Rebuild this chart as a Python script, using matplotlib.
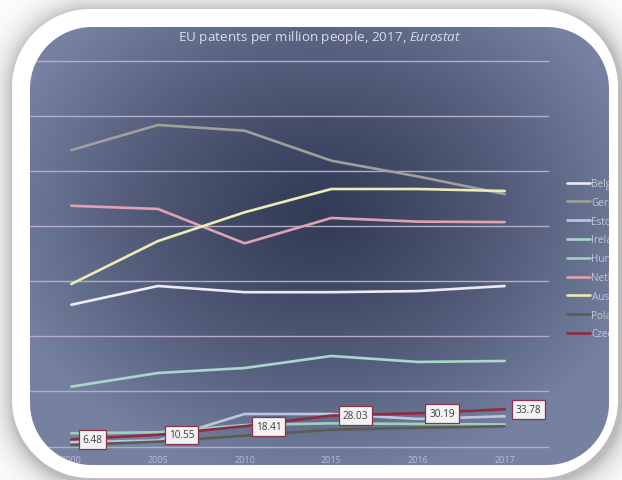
import numpy as np
import matplotlib
matplotlib.use("Agg")
import matplotlib.pyplot as plt

plt.rcParams['font.family'] = ['Open Sans', 'DejaVu Sans']
plt.rcParams['mathtext.fontset'] = 'custom'
plt.rcParams['mathtext.rm'] = 'Open Sans'
plt.rcParams['mathtext.it'] = 'Open Sans:italic'

# data (patents per million people)
years = ["2000", "2005", "2010", "2015", "2016", "2017"]
belgium = [128.6, 145.6, 140.0, 140.0, 141.0, 145.6]
germany = [268.9, 291.7, 286.5, 259.3, 245.0, 229.0]
estonia = [3.8, 5.4, 29.5, 29.5, 25.0, 27.4]
ireland = [54.3, 66.7, 71.2, 82.1, 76.7, 77.6]
hungary = [12.0, 12.9, 19.5, 21.0, 20.5, 20.0]
netherlands = [218.4, 215.5, 184.3, 207.3, 204.0, 203.6]
austria = [147.4, 186.4, 212.5, 233.6, 233.6, 231.8]
poland = [1.4, 4.4, 9.8, 15.2, 17.0, 18.3]
czechia = [6.48, 10.55, 18.41, 28.03, 30.19, 33.78]

names = ["Belgium", "Germany", "Estonia", "Ireland", "Hungary",
         "Netherlands", "Austria", "Poland", "Czechia"]
series = [belgium, germany, estonia, ireland, hungary,
          netherlands, austria, poland, czechia]
colors = ["#ecebf5", "#a19f9b", "#bfc7df", "#a9d8cb", "#9fd0bf",
          "#dea2b2", "#ecebb6", "#5d5c50", "#8e2b42"]

W, H = 622, 481
fig = plt.figure(figsize=(W / 100, H / 100), dpi=100)
fig.patch.set_facecolor("white")

yy, xx = np.mgrid[0:H, 0:W] + 0.5

# dark radial gradient behind the chart
bg = fig.add_axes([0, 0, 1, 1], zorder=0)
bg.axis("off")
t = np.sqrt(((xx - 320) / 330) ** 2 + ((yy - 215) / 265) ** 2)
t = np.clip(t, 0, 1) ** 1.3
dark = np.array([0x33, 0x3c, 0x57]) / 255
light = np.array([0x76, 0x81, 0xa1]) / 255
grad = dark + (light - dark) * t[..., None]
bg.imshow(grad, extent=[0, W, H, 0], interpolation="nearest", aspect="auto")
bg.set_xlim(0, W)
bg.set_ylim(H, 0)

# chart
ax = fig.add_axes([28 / W, (H - 447.5) / H, 520 / W, (447.5 - 61.7) / H], zorder=1)
ax.patch.set_alpha(0)
x = np.arange(len(years))
for name, vals, col in zip(names, series, colors):
    ax.plot(x, vals, color=col, lw=1.9, label=name, solid_capstyle="round")

for i, v in enumerate(czechia):
    ax.annotate(f"{v:.2f}", (x[i], v), xytext=(8, 0), textcoords="offset points",
                ha="left", va="center", fontsize=7.2, color="#3a3a3a",
                bbox=dict(boxstyle="square,pad=0.38", fc="#f3f2f5", ec="#8e3345", lw=0.9))

ax.set_xlim(-0.5, len(years) - 0.5)
ax.set_ylim(0, 350)
ax.set_yticks(np.arange(0, 351, 50))
ax.set_xticks(x)
ax.set_xticklabels(years)
ax.tick_params(axis="x", length=0, pad=6, labelsize=6.5, labelcolor="#b9bdcf")
ax.tick_params(axis="y", length=0, labelleft=False)
ax.grid(axis="y", color="#b3adc6", lw=1)
for gl in ax.yaxis.get_gridlines():
    gl.set_clip_on(False)
for s in ax.spines.values():
    s.set_visible(False)

ax.legend(loc="upper left", bbox_to_anchor=(567 / W, 1 - 179 / H),
          bbox_transform=fig.transFigure, frameon=False, fontsize=7.2,
          labelcolor="#c3c8d6", handlelength=2.3, handletextpad=0.15,
          labelspacing=0.78, borderpad=0, borderaxespad=0)

fig.text(320 / W, 1 - 38 / H, r"EU patents per million people, 2017, $\it{Eurostat}$",
         ha="center", va="center", fontsize=9.7, color="#dadde6")


# white rounded frame with soft shadow on top
def round_rect_dist(x0, y0, x1, y1, r):
    cx, cy = (x0 + x1) / 2, (y0 + y1) / 2
    qx = np.abs(xx - cx) - ((x1 - x0) / 2 - r)
    qy = np.abs(yy - cy) - ((y1 - y0) / 2 - r)
    outside = np.hypot(np.maximum(qx, 0), np.maximum(qy, 0))
    inside = np.minimum(np.maximum(qx, qy), 0)
    return outside + inside - r


inner = round_rect_dist(30, 28, 609, 466, 62)
outer = round_rect_dist(12, 10, 618, 479, 78)
shad = round_rect_dist(13, 12, 621, 483, 78)
a_in = np.clip(0.5 - inner, 0, 1)
a_out = np.clip(0.5 - outer, 0, 1)
shade = 1 - 0.26 * np.exp(-np.maximum(shad, 0) / 13)
rgb = a_out + (1 - a_out) * shade
frame = np.dstack([rgb, rgb, rgb, 1 - a_in])

ov = fig.add_axes([0, 0, 1, 1], zorder=10)
ov.axis("off")
ov.imshow(frame, extent=[0, W, H, 0], interpolation="nearest", aspect="auto")
ov.set_xlim(0, W)
ov.set_ylim(H, 0)

fig.savefig("out.png", dpi=100)
